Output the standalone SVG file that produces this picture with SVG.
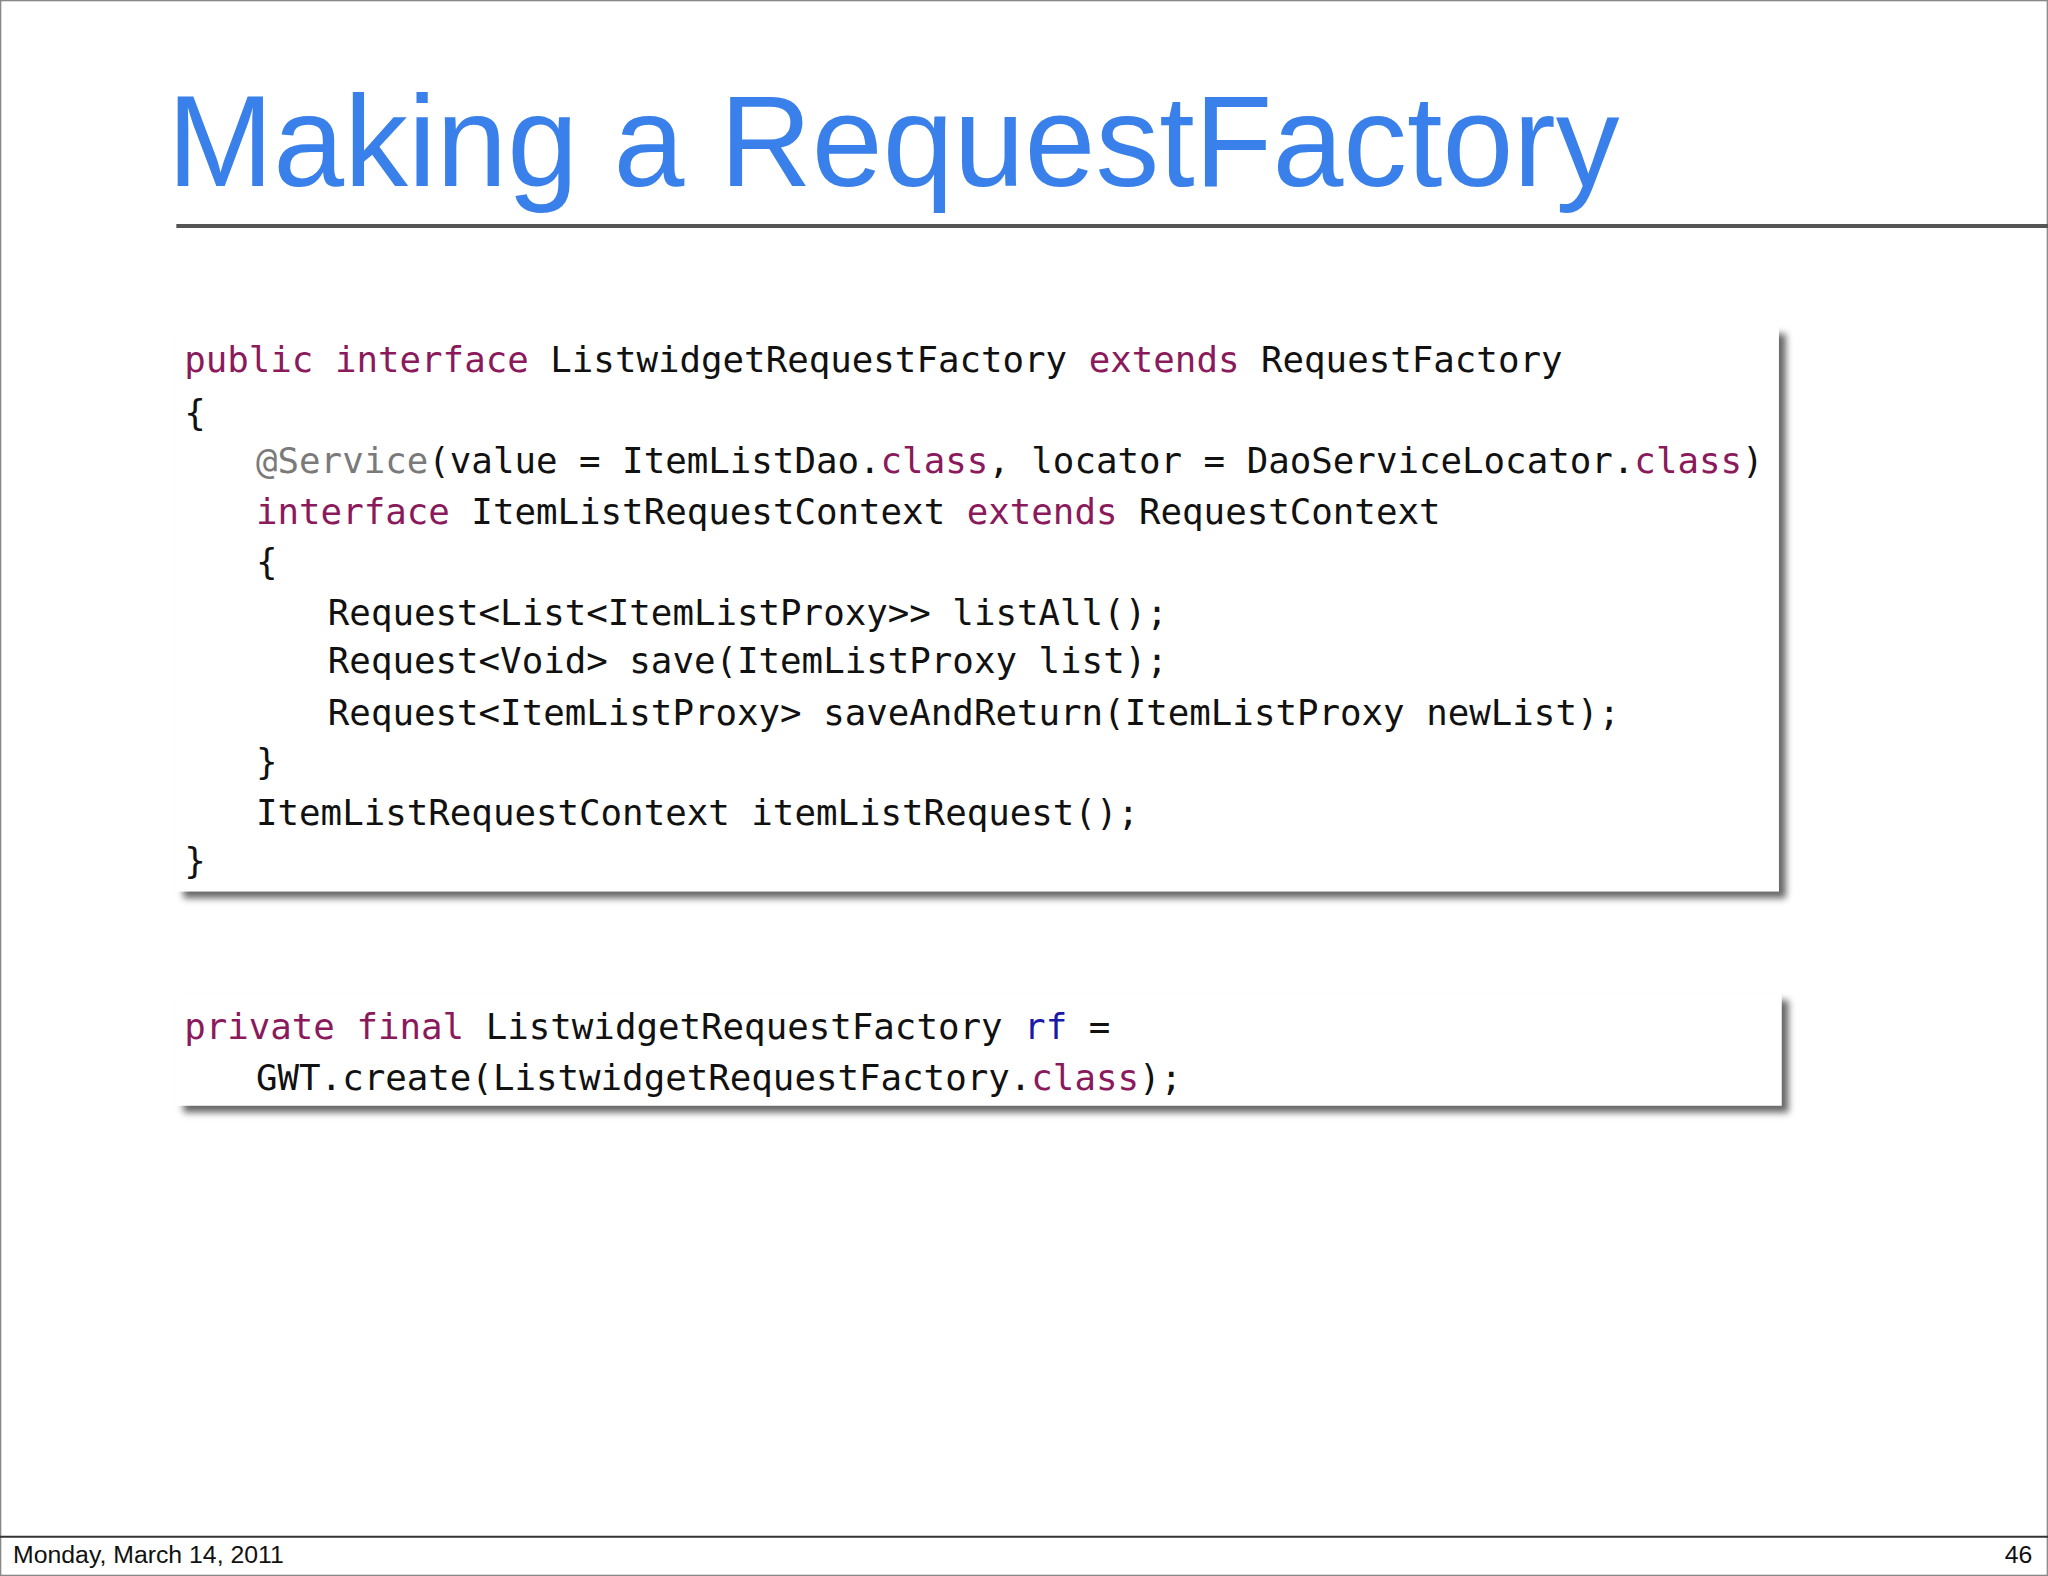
<svg xmlns="http://www.w3.org/2000/svg" width="2048" height="1576" viewBox="0 0 2048 1576">
<defs>
<style>
.code{font-family:"DejaVu Sans Mono",monospace;font-size:27.4px;fill:#111}
.k{fill:#8a1a5c}.a{fill:#7a7a7a}.b{fill:#1a1aa8}
.foot{font-family:"Liberation Sans",Arial,sans-serif;font-size:19px;fill:#111}
</style>
<filter id="sh" x="-5%" y="-10%" width="112%" height="130%"><feGaussianBlur in="SourceAlpha" stdDeviation="3"/><feOffset dx="5" dy="5"/><feComponentTransfer><feFuncA type="linear" slope="0.6"/></feComponentTransfer><feMerge><feMergeNode/><feMergeNode in="SourceGraphic"/></feMerge></filter>
</defs>
<rect width="2048" height="1576" fill="#fff"/>
<g transform="scale(1.3061,1.3068)">
<rect x="0.5" y="0.5" width="1567" height="1205" fill="none" stroke="#888" stroke-width="1"/>
<g id="title"><text x="128" y="142" font-family="Liberation Sans,Arial,sans-serif" font-size="100" fill="#3a80ea" textLength="1112" lengthAdjust="spacingAndGlyphs">Making a RequestFactory</text>
<line x1="135" y1="173" x2="1568" y2="173" stroke="#555" stroke-width="3"/></g>
<g id="box1"><rect x="135" y="250" width="1227" height="432" fill="#fff" filter="url(#sh)"/>
<text class="code">
<tspan x="141" y="285"><tspan class="k">public interface</tspan> ListwidgetRequestFactory <tspan class="k">extends</tspan> RequestFactory</tspan>
<tspan x="141" y="325">{</tspan>
<tspan x="196" y="362"><tspan class="a">@Service</tspan>(value = ItemListDao.<tspan class="k">class</tspan>, locator = DaoServiceLocator.<tspan class="k">class</tspan>)</tspan>
<tspan x="196" y="401"><tspan class="k">interface</tspan> ItemListRequestContext <tspan class="k">extends</tspan> RequestContext</tspan>
<tspan x="196" y="439">{</tspan>
<tspan x="251" y="478">Request&lt;List&lt;ItemListProxy&gt;&gt; listAll();</tspan>
<tspan x="251" y="515">Request&lt;Void&gt; save(ItemListProxy list);</tspan>
<tspan x="251" y="555">Request&lt;ItemListProxy&gt; saveAndReturn(ItemListProxy newList);</tspan>
<tspan x="196" y="592">}</tspan>
<tspan x="196" y="631">ItemListRequestContext itemListRequest();</tspan>
<tspan x="141" y="668">}</tspan>
</text></g>
<g id="box2"><rect x="135" y="760" width="1229" height="86" fill="#fff" filter="url(#sh)"/>
<text class="code">
<tspan x="141" y="795"><tspan class="k">private final</tspan> ListwidgetRequestFactory <tspan class="b">rf</tspan> =</tspan>
<tspan x="196" y="834">GWT.create(ListwidgetRequestFactory.<tspan class="k">class</tspan>);</tspan>
</text></g>
<g id="footer"><line x1="0" y1="1176" x2="1568" y2="1176" stroke="#333" stroke-width="1.5"/>
<text class="foot" x="10" y="1196">Monday, March 14, 2011</text>
<text class="foot" x="1556" y="1196" text-anchor="end">46</text></g>
</g>
</svg>
